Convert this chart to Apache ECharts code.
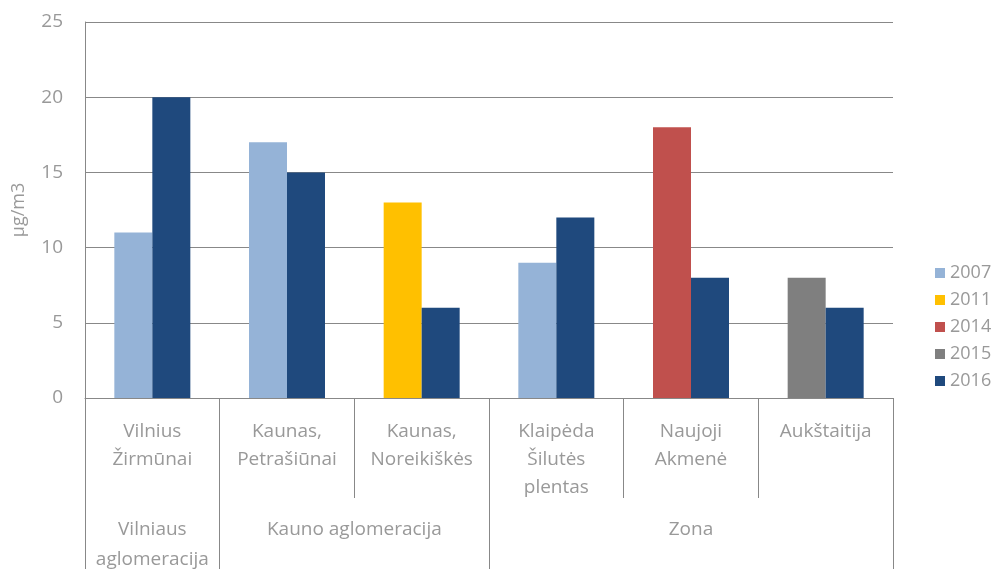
<!DOCTYPE html>
<html>
<head>
<meta charset="utf-8">
<script src="https://cdn.jsdelivr.net/npm/echarts@6/dist/echarts.min.js"></script>
<style>
  html, body { margin: 0; padding: 0; background: #fff; }
  #chart { width: 1003px; height: 569px; }
</style>
</head>
<body>
<div id="chart"></div>
<script>
(function () {

  var stations = ['Vilnius\nŽirmūnai', 'Kaunas,\nPetrašiūnai', 'Kaunas,\nNoreikiškės',
    'Klaipėda\nŠilutės\nplentas', 'Naujoji\nAkmenė', 'Aukštaitija'];
  var groups = ['Vilniaus\naglomeracija', 'Kauno aglomeracija', 'Zona'];
  var groupCenters = [0.5, 2, 4.5];
  var groupBounds = [0, 1, 3, 6];
  var stationBounds = [0, 1, 2, 3, 4, 5, 6];
  var yTicks = [0, 5, 10, 15, 20, 25];

  var years = ['2007', '2011', '2014', '2015', '2016'];
  var v2007 = [11, 17, null, 9, null, null];
  var v2011 = [null, null, 13, null, null, null];
  var v2014 = [null, null, null, null, 18, null];
  var v2015 = [null, null, null, null, null, 8];
  var v2016 = [20, 15, 6, 12, 8, 6];

  var colors = ['#95B3D7', '#FFC000', '#C0504D', '#7F7F7F', '#1F497D'];
  var txt = '#999999';
  var lineCol = '#888888';
  var font = 'Open Sans';
  var fs = 19;

  function bar(name, data, color, stack) {
    var s = {
      name: name,
      type: 'bar',
      data: data,
      barWidth: 38,
      barGap: 0,
      itemStyle: { color: color }
    };
    if (stack) s.stack = stack;
    return s;
  }

  var chart = echarts.init(document.getElementById('chart'));
  chart.setOption({
    animation: false,
    textStyle: { fontFamily: font },
    grid: { left: 85, right: 110, top: 22, bottom: 171, containLabel: false, outerBoundsMode: 'none' },
    legend: {
      orient: 'vertical',
      left: 930,
      top: 258,
      icon: 'rect',
      itemWidth: 10,
      itemHeight: 10,
      itemGap: 7,
      data: years,
      textStyle: { color: txt, fontSize: 18, lineHeight: 20, fontFamily: font }
    },
    xAxis: [{
      type: 'category',
      data: stations,
      axisLine: { lineStyle: { color: lineCol } },
      axisTick: { show: false },
      axisLabel: {
        color: txt, fontSize: fs, lineHeight: 28, margin: 20,
        verticalAlign: 'top', interval: 0
      }
    }, {
      // separators between stations
      type: 'value',
      min: 0,
      max: 6,
      position: 'bottom',
      offset: 0,
      splitLine: { show: false },
      axisLine: { show: false },
      axisLabel: { show: false },
      axisTick: {
        show: true, length: 100, customValues: stationBounds,
        lineStyle: { color: lineCol }
      }
    }, {
      // group row
      type: 'value',
      min: 0,
      max: 6,
      position: 'bottom',
      offset: 100,
      splitLine: { show: false },
      axisLine: { show: false },
      axisTick: {
        show: true, length: 72, customValues: groupBounds,
        lineStyle: { color: lineCol }
      },
      axisLabel: {
        show: true, customValues: groupCenters, color: txt, fontSize: fs,
        lineHeight: 30, margin: 17, verticalAlign: 'top',
        formatter: function (v) {
          var i = groupCenters.indexOf(v);
          return i >= 0 ? groups[i] : '';
        }
      }
    }],
    yAxis: [{
      type: 'value',
      min: 0,
      max: 25,
      interval: 5,
      name: 'µg/m3',
      nameLocation: 'middle',
      nameGap: 57,
      nameTextStyle: { color: txt, fontSize: 18 },
      axisLine: { show: true, lineStyle: { color: lineCol } },
      axisTick: { show: false },
      axisLabel: { color: txt, fontSize: fs, margin: 22 },
      splitLine: { lineStyle: { color: lineCol } }
    }, {
      // short outward ticks left of the axis line
      type: 'value',
      min: 0,
      max: 25,
      position: 'left',
      offset: 8,
      splitLine: { show: false },
      axisLine: { show: false },
      axisLabel: { show: false },
      axisTick: {
        show: true, inside: true, length: 8, customValues: yTicks,
        lineStyle: { color: lineCol }
      }
    }],
    series: [
      bar('2007', v2007, colors[0], 'first'),
      bar('2011', v2011, colors[1], 'first'),
      bar('2014', v2014, colors[2], 'first'),
      bar('2015', v2015, colors[3], 'first'),
      bar('2016', v2016, colors[4])
    ]
  });
})();
</script>
</body>
</html>
